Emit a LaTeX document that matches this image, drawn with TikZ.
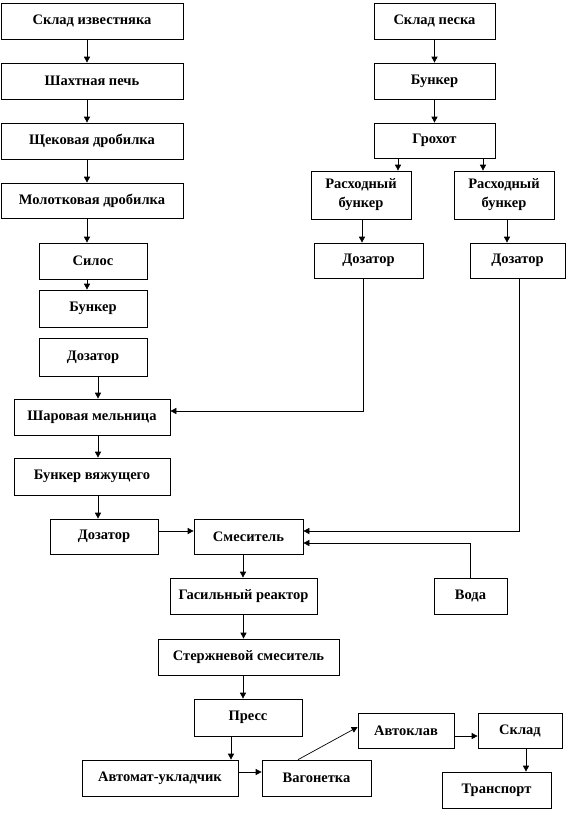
\documentclass[tikz,border=0pt]{standalone}
\usepackage{fontspec}
\setmainfont{Liberation Serif}
\usetikzlibrary{arrows.meta,calc}
\begin{document}
\begin{tikzpicture}[x=1pt,y=-1pt,
  box/.style={draw,line width=0.7pt,inner sep=0pt,align=center,
    font=\fontsize{14.5}{19}\selectfont\bfseries},
  arr/.style={line width=0.7pt,-{Triangle[length=6pt,width=6pt]}}]
\useasboundingbox[fill=white] (0,0) rectangle (570,820);
% left column
\node[box,minimum width=182,minimum height=36] (A1) at (92,21) {Склад известняка};
\node[box,minimum width=182,minimum height=36] (A2) at (92,81) {Шахтная печь};
\node[box,minimum width=182,minimum height=36] (A3) at (92,141) {Щековая дробилка};
\node[box,minimum width=182,minimum height=35] (A4) at (92,200.5) {Молотковая дробилка};
\node[box,minimum width=108,minimum height=36] (L5) at (93,261) {Силос};
\node[box,minimum width=108,minimum height=37] (L6) at (93,308.5) {Бункер};
\node[box,minimum width=108,minimum height=38] (L7) at (93,357) {Дозатор};
\node[box,minimum width=156,minimum height=36] (L8) at (92,417) {Шаровая мельница};
\node[box,minimum width=156,minimum height=37] (L9) at (92,476.5) {Бункер вяжущего};
\node[box,minimum width=108,minimum height=35] (L10) at (104,536.5) {Дозатор};
% middle
\node[box,minimum width=109,minimum height=35] (M11) at (248.5,536.5) {Смеситель};
\node[box,minimum width=147,minimum height=36] (M12) at (243.5,596) {Гасильный реактор};
\node[box,minimum width=73,minimum height=36] (W) at (470.5,596) {Вода};
\node[box,minimum width=181,minimum height=36] (M13) at (248.5,657) {Стержневой смеситель};
\node[box,minimum width=108,minimum height=37] (M14) at (248,717.5) {Пресс};
\node[box,minimum width=156,minimum height=36] (B1) at (160,778) {Автомат-укладчик};
\node[box,minimum width=109,minimum height=36] (B2) at (316.5,778) {Вагонетка};
\node[box,minimum width=96,minimum height=35] (B3) at (406,730.5) {Автоклав};
\node[box,minimum width=84,minimum height=35] (B4) at (520,730.5) {Склад};
\node[box,minimum width=109,minimum height=36] (B5) at (496.5,790) {Транспорт};
% right column
\node[box,minimum width=121,minimum height=36] (R1) at (434.5,21) {Склад песка};
\node[box,minimum width=121,minimum height=36] (R2) at (434.5,81) {Бункер};
\node[box,minimum width=121,minimum height=35] (R3) at (434.5,140.5) {Грохот};
\node[box,minimum width=100,minimum height=48] (R4) at (361,195) {Расходный\\бункер};
\node[box,minimum width=100,minimum height=48] (R5) at (504,195) {Расходный\\бункер};
\node[box,minimum width=109,minimum height=35] (R6) at (368.5,260.5) {Дозатор};
\node[box,minimum width=95,minimum height=35] (R7) at (517.5,260.5) {Дозатор};
% connectors left
\draw[arr] ([xshift=-5pt]A1.south) -- ([xshift=-5pt]A1.south |- A2.north);
\draw[arr] ([xshift=-5pt]A2.south) -- ([xshift=-5pt]A2.south |- A3.north);
\draw[arr] ([xshift=-5pt]A3.south) -- ([xshift=-5pt]A3.south |- A4.north);
\draw[arr] ([xshift=-5pt]A4.south) -- ([xshift=-5pt]A4.south |- L5.north);
\draw[arr] ([xshift=-6pt]L5.south) -- ([xshift=-6pt]L5.south |- L6.north);
\draw[arr] ([xshift=5pt]L7.south) -- ([xshift=5pt]L7.south |- L8.north);
\draw[arr] ([xshift=6pt]L8.south) -- ([xshift=6pt]L8.south |- L9.north);
\draw[arr] ([xshift=6pt]L9.south) -- ([xshift=6pt]L9.south |- L10.north);
\draw[arr] ([yshift=5.5pt]L10.east) -- ([yshift=5.5pt]M11.west);
% connectors right
\draw[arr] (R1.south) -- (R2.north);
\draw[arr] (R2.south) -- (R3.north);
\draw[arr] ([xshift=-36.5pt]R3.south) -- ([xshift=-36.5pt]R3.south |- R4.north);
\draw[arr] ([xshift=48.5pt]R3.south) -- ([xshift=48.5pt]R3.south |- R5.north);
\draw[arr] ([xshift=1pt]R4.south) -- ([xshift=1pt]R4.south |- R6.north);
\draw[arr] ([xshift=3pt]R5.south) -- ([xshift=3pt]R5.south |- R7.north);
\draw[arr] ([xshift=-5.5pt]R6.south) |- ([yshift=6pt]L8.east);
\draw[arr] ([xshift=1.5pt]R7.south) |- ([yshift=5.5pt]M11.east);
\draw[arr] (W.north) |- ([yshift=-6.5pt]M11.east);
% connectors middle / bottom
\draw[arr] ([xshift=-5.5pt]M11.south) -- ([xshift=-5.5pt]M11.south |- M12.north);
\draw[arr] (M12.south) -- (M12.south |- M13.north);
\draw[arr] ([xshift=-5.5pt]M13.south) -- ([xshift=-5.5pt]M13.south |- M14.north);
\draw[arr] ([xshift=-17pt]M14.south) -- ([xshift=-17pt]M14.south |- B1.north);
\draw[arr] ([yshift=6pt]B1.east) -- ([yshift=6pt]B2.west);
\draw[arr] ([xshift=-18.5pt]B2.north) -- ([yshift=3.5pt]B3.west);
\draw[arr] ([yshift=-5.5pt]B3.east) -- ([yshift=-5.5pt]B4.west);
\draw[arr] ([xshift=6pt]B4.south) -- ([xshift=6pt]B4.south |- B5.north);
\end{tikzpicture}
\end{document}
